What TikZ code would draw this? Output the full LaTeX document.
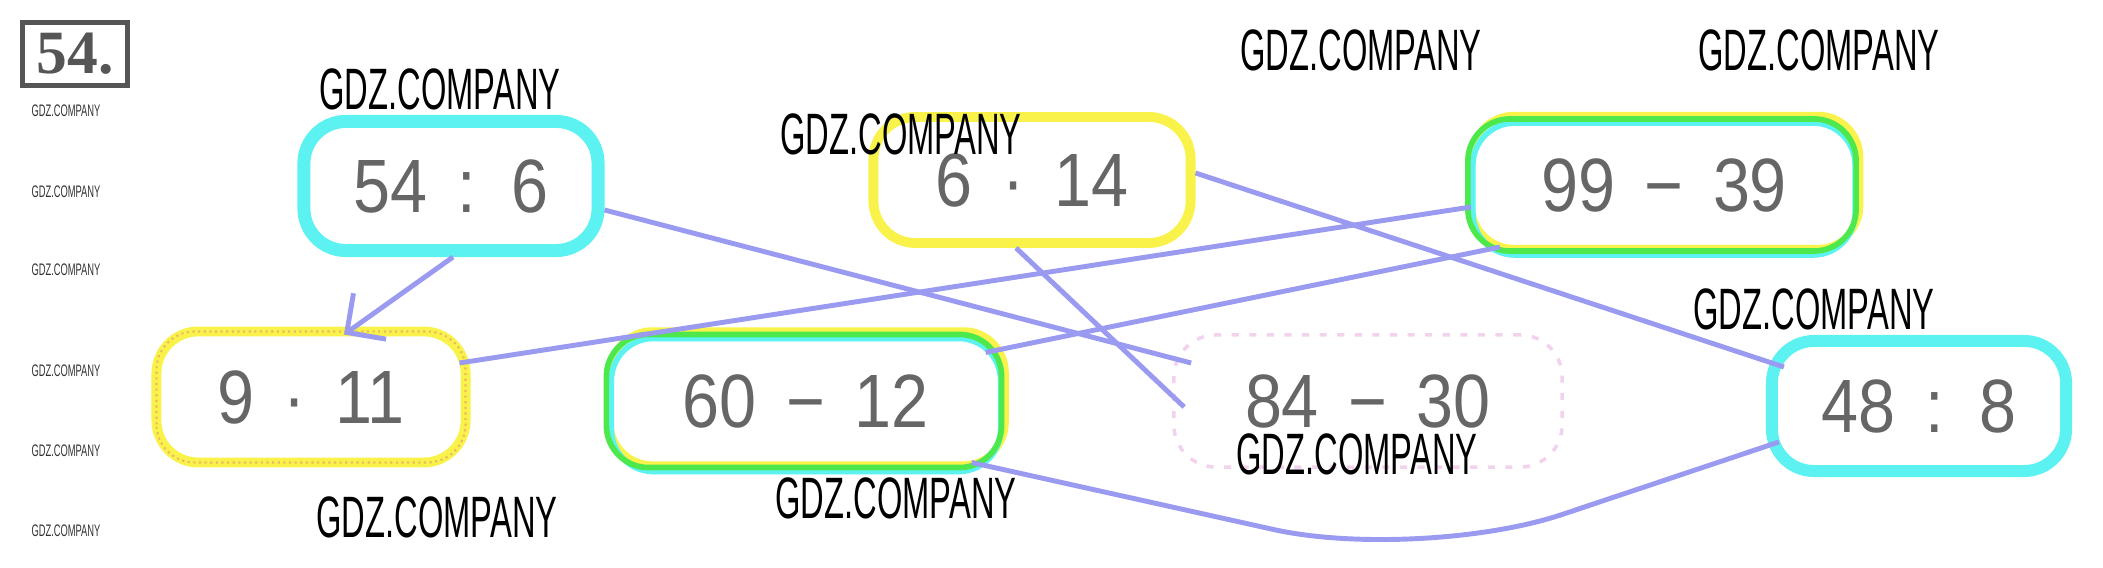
\documentclass[tikz,border=0pt]{standalone}
\usepackage{fontspec}
\usetikzlibrary{arrows.meta}

\newfontfamily\numfont{Liberation Sans}[FakeStretch=0.88,WordSpace=1.6]
\newfontfamily\wmfont{Liberation Sans}[FakeStretch=0.56]
\newfontfamily\headfont{Liberation Serif}

\definecolor{boxcyan}{HTML}{5CF2F2}
\definecolor{boxyellow}{HTML}{F8F24A}
\definecolor{boxgreen}{HTML}{4CE84C}
\definecolor{speckle}{HTML}{ECB860}
\definecolor{linkblue}{HTML}{9A9AF0}
\definecolor{numgray}{HTML}{666666}
\definecolor{framegray}{HTML}{555555}
\definecolor{faintpink}{HTML}{F2D2EC}

\begin{document}
\begin{tikzpicture}[x=0.01cm, y=-0.01cm,
    task/.style={rectangle, rounded corners=0.42cm, text=numgray, inner sep=0pt,
        font=\numfont\fontsize{21.5}{24}\selectfont},
    link/.style={linkblue, line width=1.4pt},
    wm/.style={inner sep=0pt, font=\wmfont\fontsize{16.6}{18}\selectfont},
    wmsmall/.style={inner sep=0pt, text=black!80, font=\wmfont\fontsize{4.75}{5}\selectfont}]

        % page size as in the scan
        \useasboundingbox (0,0) rectangle (2103,568);

        % number of the task
        \node[draw=framegray, line width=1.3pt, minimum width=1.05cm, minimum height=0.63cm, inner sep=0pt,
              text=framegray, font=\headfont\bfseries\fontsize{17.5}{18}\selectfont] (num) at (75,54) {54.};

        % the expressions, top row
        \node[task, draw=boxcyan, line width=3.7pt, minimum width=2.94cm, minimum height=1.29cm] (n546) at (451,186) {54 : 6};
        \node[task, draw=boxyellow, line width=2.8pt, minimum width=3.17cm, minimum height=1.26cm] (n614) at (1032,180) {6 · 14};
        \node[task, outer sep=0pt, minimum width=3.96cm, minimum height=1.44cm] (n9939) at (1664,185) {99 − 39};

        % the expressions, bottom row
        \node[task, draw=boxyellow, line width=2.8pt, minimum width=3.09cm, minimum height=1.31cm] (n911) at (311,397) {9 · 11};
        \node[task, outer sep=0pt, minimum width=4.03cm, minimum height=1.45cm] (n6012) at (806,401) {60 − 12};
        \node[task, draw=faintpink, line width=1pt, dash pattern=on 2pt off 3pt, minimum width=3.88cm, minimum height=1.32cm] (n8430) at (1368,401) {84 − 30};
        \node[task, draw=boxcyan, line width=3.4pt, minimum width=2.94cm, minimum height=1.30cm] (n488) at (1919,406) {48 : 8};

        % speckles on the yellow frame
        \draw[speckle, line width=0.6pt, densely dotted, rounded corners=0.38cm] ([shift={(5,-5)}]n911.south west) rectangle ([shift={(-5,5)}]n911.north east);

        % frames drawn over and over in three colours
        \foreach \n in {n9939,n6012} {
            \draw[boxyellow, line width=1.8pt, rounded corners=0.42cm] ([shift={(6,-9)}]\n.south west) rectangle ([shift={(-2,2)}]\n.north east);
            \draw[boxcyan, line width=1.6pt, rounded corners=0.42cm] ([shift={(7,-2)}]\n.south west) rectangle ([shift={(-7,10)}]\n.north east);
            \draw[boxgreen, line width=1.6pt, rounded corners=0.42cm] ([shift={(2,-6)}]\n.south west) rectangle ([shift={(-6,6)}]\n.north east);
        }

        % the connecting lines
        \coordinate (low) at (1420,562);
        \draw[link, -{Straight Barb[length=8pt,width=16pt]}] ([shift={(2,0)}]n546.south) -- ([shift={(33,8)}]n911.north);
        \draw[link] ([shift={(0,24)}]n546.east) -- ([shift={(19,-38)}]n8430.west);
        \draw[link] ([shift={(-16,0)}]n614.south) -- ([shift={(12,6)}]n8430.west);
        \draw[link] ([shift={(0,-7)}]n614.east) -- ([shift={(18,-39)}]n488.west);
        \draw[link] ([shift={(5,22)}]n9939.west) -- ([shift={(-11,-34)}]n911.east);
        \draw[link] ([shift={(34,-10)}]n9939.south west) -- ([shift={(-22,24)}]n6012.north east);
        \draw[link, rounded corners=1.5cm] ([shift={(-36,-11)}]n6012.south east) -- (low) -- ([shift={(13,36)}]n488.west);

        % watermarks
        \node[wm] (wm1) at (440,89) {GDZ.COMPANY};
        \node[wm] (wm2) at (1361,50) {GDZ.COMPANY};
        \node[wm] (wm3) at (1819,50) {GDZ.COMPANY};
        \node[wm] (wm4) at (901,134) {GDZ.COMPANY};
        \node[wm] (wm5) at (1814,309) {GDZ.COMPANY};
        \node[wm] (wm6) at (437,517) {GDZ.COMPANY};
        \node[wm] (wm7) at (896,498) {GDZ.COMPANY};
        \node[wm] (wm8) at (1357,454) {GDZ.COMPANY};
        \foreach \y in {111,192,270,371,451,531}
                \node[wmsmall] (wms\y) at (66,\y) {GDZ.COMPANY};

\end{tikzpicture}
\end{document}
